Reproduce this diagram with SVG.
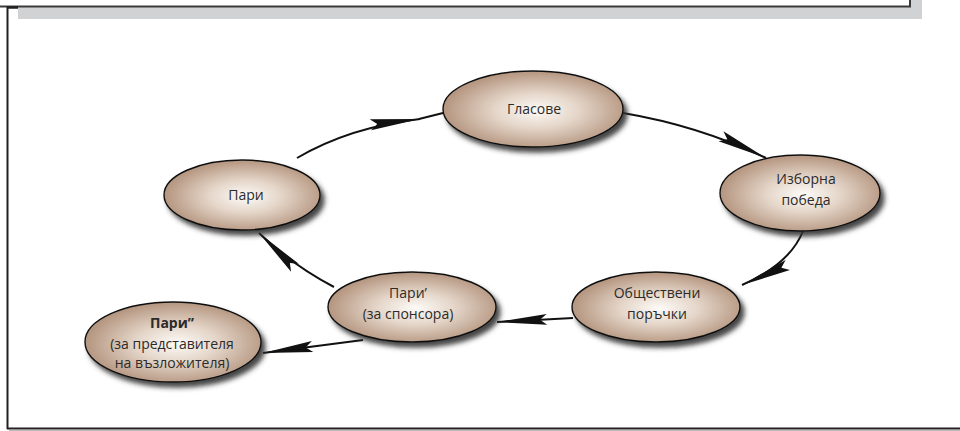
<svg xmlns="http://www.w3.org/2000/svg" width="960" height="431" viewBox="0 0 960 431">
<defs>
<radialGradient id="g" cx="52%" cy="52%" r="52%">
<stop offset="0" stop-color="#fdfbf8"/>
<stop offset="0.45" stop-color="#e4d5c8"/>
<stop offset="1" stop-color="#b4957f"/>
</radialGradient>
<filter id="sh" x="-20%" y="-20%" width="150%" height="160%">
<feGaussianBlur in="SourceAlpha" stdDeviation="2.5"/>
<feOffset dx="4" dy="5" result="b"/>
<feFlood flood-color="#333333" flood-opacity="0.9"/>
<feComposite in2="b" operator="in"/>
<feMerge><feMergeNode/><feMergeNode in="SourceGraphic"/></feMerge>
</filter>
<marker id="ah" viewBox="-54 -7 56 14" refX="0" refY="0" markerWidth="56" markerHeight="14" markerUnits="userSpaceOnUse" orient="auto" overflow="visible">
<path d="M0,0 L-50,-5.5 L-43,0 L-50,5.5 Z" fill="#111"/>
</marker>
<style>
.node ellipse{fill:url(#g);stroke:#111;stroke-width:1.4;filter:url(#sh)}
.node text{font-family:"Open Sans","Noto Sans","DejaVu Sans",sans-serif;font-size:14px;fill:#2b2b2b;text-anchor:middle}
.conn path{fill:none;stroke:#111;stroke-width:2}
</style>
</defs>
<g id="frame">
<rect x="18" y="0" width="904" height="19" fill="#d1d2d4"/>
<rect x="-2" y="-10" width="912" height="16.5" fill="#fff" stroke="#3a3a3c" stroke-width="2"/>
<line x1="7.5" y1="6.5" x2="7.5" y2="429" stroke="#231f20" stroke-width="2"/>
<line x1="7" y1="7.5" x2="18" y2="7.5" stroke="#231f20" stroke-width="2.5"/>
<line x1="7" y1="428.5" x2="960" y2="428.5" stroke="#231f20" stroke-width="2"/>
<line x1="9" y1="430.5" x2="960" y2="430.5" stroke="#bbbbbb" stroke-width="1"/>
</g>
<g class="conn" id="connectors">
<path d="M297,158 Q350,127 420,119" marker-end="url(#ah)"/>
<path d="M419,119 L443,113"/>
<path d="M623,113 Q700,126 766,158" marker-end="url(#ah)"/>
<path d="M803,231 Q790,264 742,285" marker-end="url(#ah)"/>
<path d="M573,318 L497,322" marker-end="url(#ah)"/>
<path d="M334,287 Q292,265 259,233" marker-end="url(#ah)"/>
<path d="M363,340 L263,353" marker-end="url(#ah)"/>
</g>
<g class="node" id="n-glasove">
<ellipse cx="533" cy="109" rx="90" ry="38"/>
<text x="534" y="114">Гласове</text>
</g>
<g class="node" id="n-pari">
<ellipse cx="242" cy="195" rx="78" ry="35"/>
<text x="246" y="200">Пари</text>
</g>
<g class="node" id="n-izborna">
<ellipse cx="800" cy="193" rx="80" ry="38"/>
<text x="806" y="184">Изборна</text>
<text x="806" y="205">победа</text>
</g>
<g class="node" id="n-obshtestveni">
<ellipse cx="656" cy="307" rx="84" ry="35"/>
<text x="657" y="298">Обществени</text>
<text x="657" y="319">поръчки</text>
</g>
<g class="node" id="n-pari1">
<ellipse cx="412" cy="307" rx="84" ry="35"/>
<text x="408" y="298">Пари’</text>
<text x="408" y="319">(за спонсора)</text>
</g>
<g class="node" id="n-pari2">
<ellipse cx="173" cy="342" rx="88" ry="40"/>
<text x="172" y="328" font-weight="bold">Пари”</text>
<text x="172" y="349">(за представителя</text>
<text x="172" y="368">на възложителя)</text>
</g>
</svg>
